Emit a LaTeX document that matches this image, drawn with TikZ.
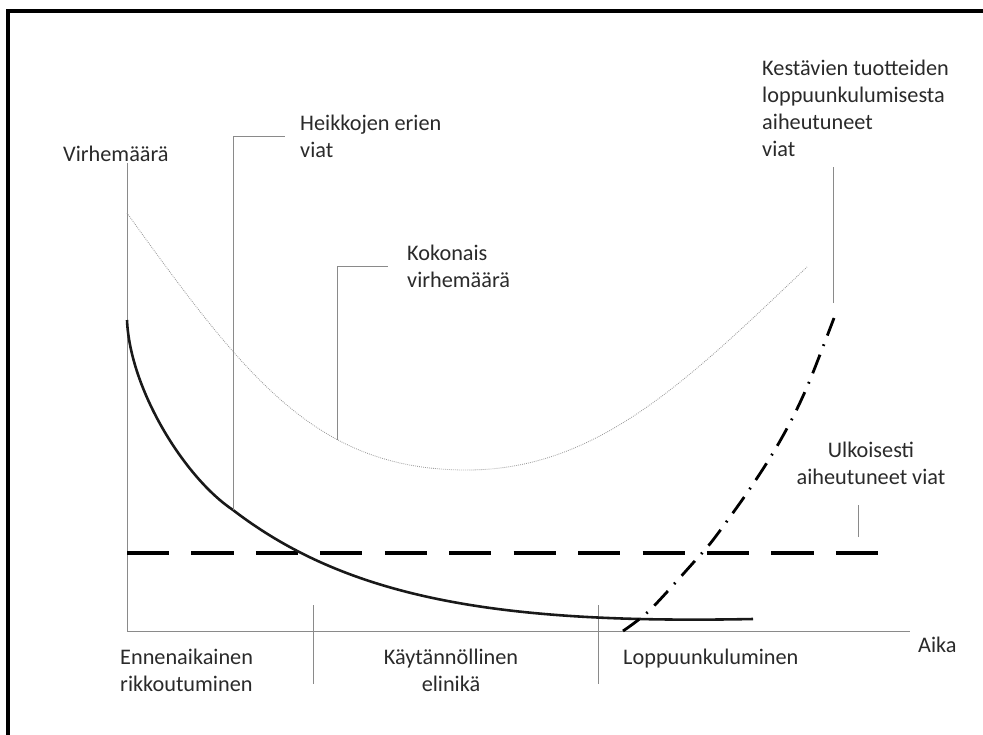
\documentclass[tikz,border=0pt]{standalone}
\usepackage{fontspec}
\setmainfont{Carlito}
\usetikzlibrary{calc}
\definecolor{textgray}{HTML}{2A2A2A}
\definecolor{linegray}{HTML}{8A8A8A}

\begin{document}
\begin{tikzpicture}[x=0.03cm, y=-0.03cm,
  lbl/.style={inner sep=0pt, text=textgray, align=left,
    font=\fontsize{19pt}{23pt}\selectfont},
  leader/.style={draw=linegray, line width=0.8pt},
  axis/.style={draw=linegray, line width=0.8pt},
  early/.style={line width=2.2pt, black!90},
  total/.style={draw=gray!80, densely dotted, line width=0.7pt},
  wear/.style={line width=2.4pt, dash pattern=on 17pt off 8pt on 1.5pt off 8pt},
  extern/.style={line width=3.2pt, dash pattern=on 36pt off 19pt}]
  % Help lines
  %\draw[help lines, step=50] (0,0) grid (983,735);
  \fill[white] (0,0) rectangle (983,735);
  \useasboundingbox (0,0) rectangle (983,735);
  % frame
  \draw[line width=2.6pt] (8,735) -- (8,11) -- (983,11);
  % axes
  \coordinate (O) at (127,631);
  \coordinate (ytop) at (127,163);
  \coordinate (xend) at (910,631);
  \draw[axis] (ytop) -- (O) -- (xend);
  \foreach \px in {313, 598}
    \draw[axis] (\px,605) -- (\px,684);
  % labels
  \node[lbl, anchor=north west] (yl) at (63,146) {Virhemäärä};
  \node[lbl, anchor=north west] (aika) at (918,637) {Aika};
  \node[lbl, anchor=north west] (heikko) at (300,115) {Heikkojen erien\\viat};
  \node[lbl, anchor=north west] (kok) at (407,245) {Kokonais\\virhemäärä};
  \node[lbl, anchor=north west] (kest) at (762,60)
    {Kestävien tuotteiden\\loppuunkulumisesta\\aiheutuneet\\viat};
  \node[lbl, anchor=north, align=center] (ulk) at (871,442)
    {Ulkoisesti\\aiheutuneet viat};
  \node[lbl, anchor=north west] (enn) at (120,649) {Ennenaikainen\\rikkoutuminen};
  \node[lbl, anchor=north, align=center] (kay) at (451,649) {Käytännöllinen\\elinikä};
  \node[lbl, anchor=north west] (lop) at (623,649) {Loppuunkuluminen};
  % curves
  \coordinate (extS) at (127,553);
  \coordinate (extE) at (885,553);
  \coordinate (hkpt) at (233,510);
  \draw[extern] (extS) -- (extE);
  \draw[total] (127,213) .. controls (247,380) and (317,470) .. (467,470)
    .. controls (597,470) and (687,381) .. (807,267);
  \draw[early] (127,320) .. controls (130,390) and (185,478) .. (hkpt)
    .. controls (350,600) and (503,624) .. (753,619);
  \draw[wear] plot[smooth] coordinates {(623,631) (650,610) (693,563) (713,540)
    (747,493) (773,453) (793,417) (810,380) (834,318)};
  % leaders
  \coordinate (kokpt) at (337,440);
  \coordinate (kestpt) at (833,303);
  \coordinate (ulkpt) at (858,537);
  \draw[leader] (hkpt) |- ($(heikko.west)+(-15,0)$);
  \draw[leader] (kokpt) |- ($(kok.west)+(-19,0)$);
  \draw[leader] (kestpt) -- ($(kest.south -| kestpt)+(0,10)$);
  \draw[leader] (ulkpt) -- ($(ulk.south -| ulkpt)+(0,20)$);
\end{tikzpicture}
\end{document}
